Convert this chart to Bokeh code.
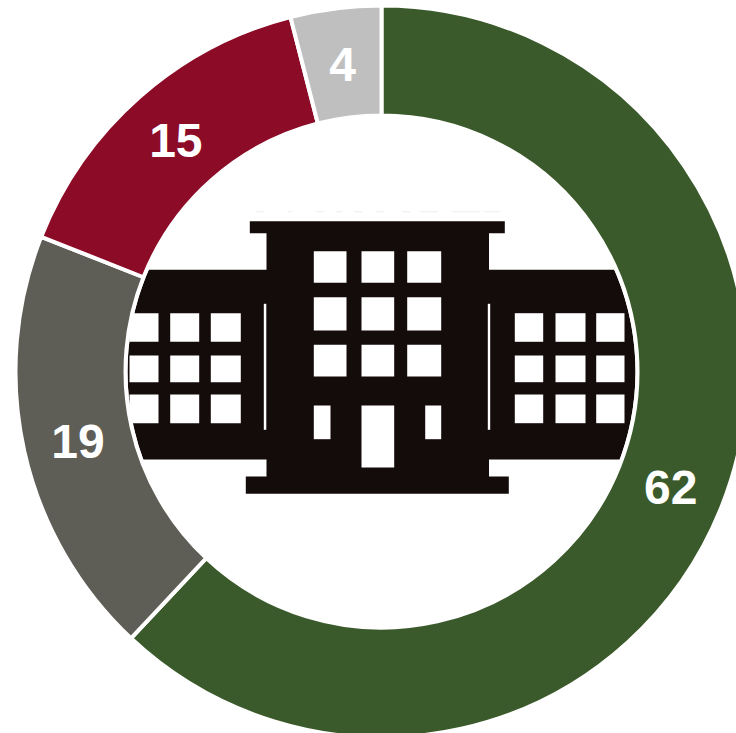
import numpy as np
from bokeh.core.properties import value
from bokeh.embed import file_html
from bokeh.models import ColumnDataSource, Range1d
from bokeh.plotting import figure
from bokeh.resources import INLINE

values = [62, 19, 15, 4]
labels = ["62", "19", "15", "4"]
colors = ["#3B5A2B", "#5F5E56", "#8C0B27", "#BFBFBF"]

CX, CY = 381, 371
R_OUT, R_IN, R_ICON, R_LABEL = 366, 256, 254, 311
PAGE_H = 733
BLACK = "#140B0B"


def Y(y):
    return PAGE_H - y


p = figure(width=736, height=733, output_backend="svg", toolbar_location=None,
           x_range=Range1d(0, 736), y_range=Range1d(0, 733), min_border=0)
p.axis.visible = False
p.grid.visible = False
p.outline_line_color = None
p.background_fill_color = "white"


def box(x0, x1, y0, y1, color=BLACK):
    p.quad(left=x0, right=x1, top=Y(y0), bottom=Y(y1), fill_color=color, line_color=None)


# building silhouette
box(120, 645, 269.3, 459)          # wings, trimmed by the white ring below
box(266, 488.5, 232, 477)          # central block
box(249.3, 504.3, 220.7, 232.7)    # cornice
box(245.3, 508.3, 476, 493.3)      # base

# white ring that trims the wings
p.annulus(x=[CX], y=[Y(CY)], inner_radius=R_ICON, outer_radius=R_IN + 8,
          fill_color="white", line_color=None)

# central windows
for x0, x1 in [(313.3, 346), (361, 393.7), (406.7, 440.7)]:
    for y0, y1 in [(250.7, 282.3), (296.7, 330), (344.3, 376)]:
        box(x0, x1, y0, y1, "white")
box(361, 393.7, 405, 467, "white")
box(313.3, 330, 405, 438.7, "white")
box(424.7, 440.7, 405, 438.7, "white")

# wing windows
for x0, x1 in [(129, 158), (169.7, 198.7), (210.3, 240.3),
               (514.3, 542.7), (555, 585), (595.7, 624)]:
    for y0, y1 in [(312.7, 341.3), (355, 381.7), (394, 422.7)]:
        box(x0, x1, y0, y1, "white")

# thin separators between wings and central block
box(263.3, 265.8, 303.3, 429.3, "white")
box(487.3, 489.7, 303.3, 429.3, "white")

# faint marks above the cornice
for x0, x1 in [(255, 263), (287, 291), (316, 324), (335, 342), (354, 362),
               (375, 383), (402, 410), (420, 437), (452, 480), (483, 500)]:
    box(x0, x1, 210.7, 211.7, "#EDEDED")

# doughnut
vals = np.array(values, dtype=float)
frac = vals / vals.sum()
ends = np.cumsum(frac)
starts = ends - frac
mids = (starts + ends) / 2
src = ColumnDataSource(dict(
    x=[CX] * len(vals),
    y=[Y(CY)] * len(vals),
    start=np.pi / 2 - 2 * np.pi * starts,
    end=np.pi / 2 - 2 * np.pi * ends,
    color=colors,
    lx=CX + R_LABEL * np.sin(2 * np.pi * mids),
    ly=Y(CY + 2) + R_LABEL * np.cos(2 * np.pi * mids),
    label=labels,
))
p.annular_wedge(x="x", y="y", inner_radius=R_IN, outer_radius=R_OUT,
                start_angle="start", end_angle="end", direction="clock",
                fill_color="color", line_color="white", line_width=4, source=src)
p.text(x="lx", y="ly", text="label", source=src, text_color="white",
       text_font=value("Liberation Sans"), text_font_style="bold",
       text_font_size="48px", text_align="center", text_baseline="middle")

open("out.html", "w").write(file_html(p, INLINE))
